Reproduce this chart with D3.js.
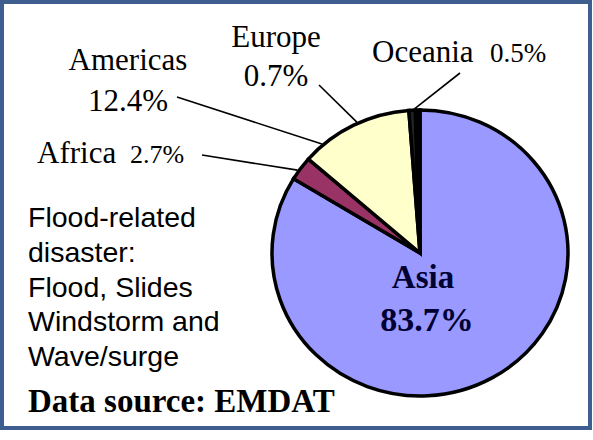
<!DOCTYPE html>
<html>
<head>
<meta charset="utf-8">
<script src="https://cdn.jsdelivr.net/npm/d3@7"></script>
<style>
  html, body { margin: 0; padding: 0; background: #fff; }
</style>
</head>
<body>
<svg class="chart" width="593" height="440"></svg>
<script>
// share of flood-related disasters by region (EMDAT)
var regions = ["Asia", "Africa", "Americas", "Europe", "Oceania"];
var shares = [83.7, 2.7, 12.4, 0.7, 0.5];
var colors = ["#9999ff", "#993366", "#ffffcc", "#222222", "#000000"];
var noteLines = ["Flood-related", "disaster:", "Flood, Slides", "Windstorm and", "Wave/surge"];
var sourceText = "Data source: EMDAT";

// label placement (layout only)
var labelLayout = {
  "Asia":     {inside: true, nx: 423, ny: 288, px: 427, py: 331},
  "Americas": {nx: 128, ny: 70,  px: 128, py: 111, anchor: "middle", pSize: 31, from: [177, 97],  at: 319},
  "Europe":   {nx: 276, ny: 47,  px: 276, py: 86,  anchor: "middle", pSize: 31, from: [319, 85],  at: 335},
  "Africa":   {nx: 37,  ny: 163, px: 130, py: 163, anchor: "start",  pSize: 26, from: [202, 155], at: 305},
  "Oceania":  {nx: 372, ny: 62,  px: 490, py: 62,  anchor: "start",  pSize: 27, from: [460, 73],  at: 358}
};

var svg = d3.select(".chart"),
    cx = 420, cy = 253,
    ry = 143, rx = 148;

var data = regions.map(function(r, i) { return {region: r, value: shares[i], color: colors[i]}; });

svg.append("rect")
    .attr("x", 0).attr("y", 0)
    .attr("width", 593).attr("height", 440)
    .attr("fill", "#fff");

svg.append("rect")
    .attr("x", 2).attr("y", 2)
    .attr("width", 588).attr("height", 426)
    .attr("fill", "#fff")
    .attr("stroke", "#3d5e8f")
    .attr("stroke-width", 4);

var pie = d3.pie()
    .sort(null)
    .value(function(d) { return d.value; });

var arc = d3.arc()
    .innerRadius(0)
    .outerRadius(ry);

var g = svg.append("g")
    .attr("transform", "translate(" + cx + "," + cy + ") scale(" + (rx / ry) + ",1)");

g.selectAll("path")
    .data(pie(data))
  .enter().append("path")
    .attr("d", arc)
    .attr("fill", function(d) { return d.data.color; })
    .attr("stroke", "#000")
    .attr("stroke-width", 3.5)
    .attr("stroke-linejoin", "miter")
    .attr("vector-effect", "non-scaling-stroke");

var fmt = function(v) { return d3.format(".1f")(v) + "%"; };

data.forEach(function(d) {
  var L = labelLayout[d.region];
  if (L.inside) {
    svg.append("text")
        .attr("x", L.nx).attr("y", L.ny)
        .attr("text-anchor", "middle")
        .attr("font-family", "'Liberation Serif', 'Times New Roman', serif")
        .attr("font-weight", "bold")
        .attr("font-size", 33)
        .attr("fill", "#000033")
        .text(d.region);
    svg.append("text")
        .attr("x", L.px).attr("y", L.py)
        .attr("text-anchor", "middle")
        .attr("font-family", "'Liberation Serif', 'Times New Roman', serif")
        .attr("font-weight", "bold")
        .attr("font-size", 34)
        .attr("fill", "#000033")
        .text(fmt(d.value));
    return;
  }
  svg.append("text")
      .attr("x", L.nx).attr("y", L.ny)
      .attr("text-anchor", L.anchor)
      .attr("font-family", "'Liberation Serif', 'Times New Roman', serif")
      .attr("font-size", 31)
      .attr("fill", "#000")
      .text(d.region);
  svg.append("text")
      .attr("x", L.px).attr("y", L.py)
      .attr("text-anchor", L.anchor)
      .attr("font-family", "'Liberation Serif', 'Times New Roman', serif")
      .attr("font-size", L.pSize)
      .attr("fill", "#000")
      .text(fmt(d.value));

  // leader line to the rim of the pie
  var a = L.at * Math.PI / 180,
      p = d3.pointRadial(a, ry * 1.01);
  svg.append("line")
      .attr("x1", L.from[0]).attr("y1", L.from[1])
      .attr("x2", cx + p[0] * rx / ry).attr("y2", cy + p[1])
      .attr("stroke", "#000")
      .attr("stroke-width", 1.6);
});

svg.append("g")
    .selectAll("text")
    .data(noteLines)
  .enter().append("text")
    .attr("x", 28)
    .attr("y", function(d, i) { return 227 + i * 34.8; })
    .attr("font-family", "'Liberation Sans', Arial, sans-serif")
    .attr("font-size", 28.5)
    .attr("fill", "#000")
    .text(function(d) { return d; });

svg.append("text")
    .attr("x", 28).attr("y", 412)
    .attr("font-family", "'Liberation Serif', 'Times New Roman', serif")
    .attr("font-weight", "bold")
    .attr("font-size", 33)
    .attr("fill", "#000")
    .text(sourceText);
</script>
</body>
</html>
